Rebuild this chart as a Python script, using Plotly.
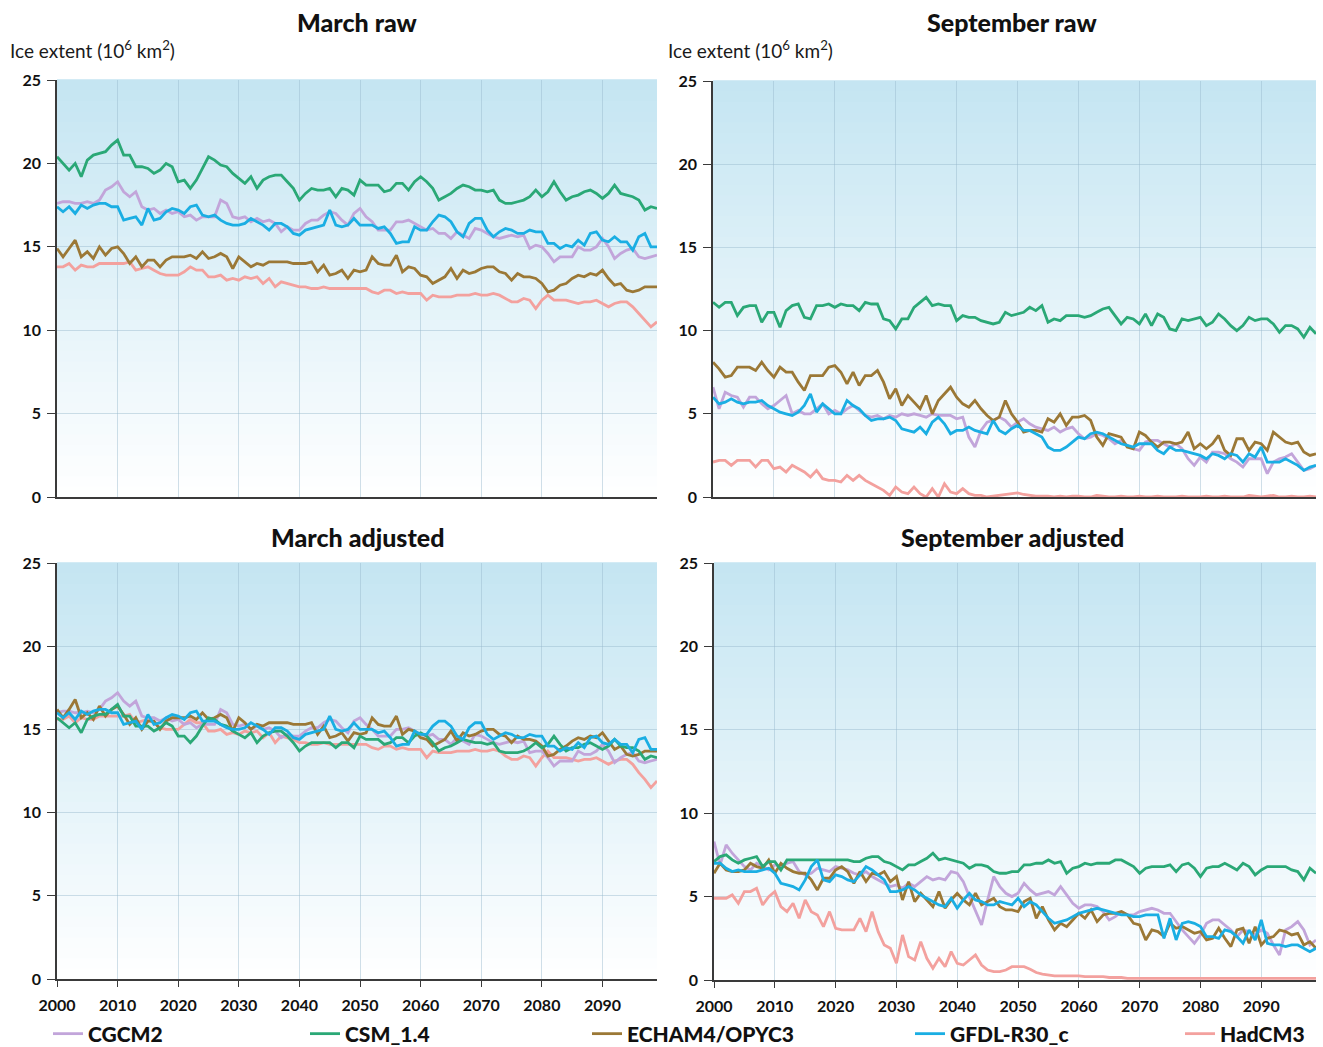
import plotly.graph_objects as go

years = list(range(2000, 2100))
models = ["CGCM2", "CSM_1.4", "ECHAM4/OPYC3", "GFDL-R30_c", "HadCM3"]
colors = ["#c2a5da", "#2aa876", "#9b7836", "#1aaee3", "#f3a19e"]
panel_titles = ["March raw", "September raw", "March adjusted", "September adjusted"]
y_ticks = [0, 5, 10, 15, 20, 25]
x_ticks = [2000, 2010, 2020, 2030, 2040, 2050, 2060, 2070, 2080, 2090]

# ---------------- March raw ----------------
mar_raw_cgcm2 = [17.6,17.7,17.7,17.6,17.6,17.7,17.6,17.8,18.4,18.6, 18.9,18.3,18.0,18.3,17.4,17.2,17.3,17.0,17.2,17.0,
                 17.1,16.8,16.9,16.6,16.8,16.8,16.8,17.8,17.6,16.8, 16.7,16.8,16.5,16.7,16.5,16.6,16.4,15.9,16.2,16.0,
                 16.0,16.4,16.6,16.6,16.9,17.1,17.0,16.6,16.3,17.0, 17.3,16.8,16.5,16.0,16.0,16.0,16.5,16.5,16.6,16.4,
                 16.2,16.0,16.1,15.8,15.8,15.5,15.9,15.7,15.5,16.1, 16.0,15.8,15.6,15.5,15.6,15.7,15.6,15.7,14.9,15.1,
                 15.0,14.6,14.1,14.4,14.4,14.4,15.0,14.8,14.8,15.0, 15.5,15.0,14.3,14.6,14.8,14.9,14.4,14.3,14.4,14.5]
mar_raw_csm = [20.4,20.0,19.6,20.0,19.2,20.2,20.5,20.6,20.7,21.1, 21.4,20.5,20.5,19.8,19.8,19.7,19.4,19.6,20.0,19.8,
               18.9,19.0,18.5,19.0,19.7,20.4,20.2,19.9,19.8,19.4, 19.1,18.8,19.2,18.5,19.0,19.2,19.3,19.3,18.9,18.5,
               17.8,18.2,18.5,18.4,18.4,18.5,18.0,18.5,18.4,18.1, 19.0,18.7,18.7,18.7,18.3,18.4,18.8,18.8,18.4,18.9,
               19.2,18.9,18.5,17.8,18.0,18.2,18.5,18.7,18.6,18.4, 18.4,18.3,18.4,17.8,17.6,17.6,17.7,17.8,18.0,18.4,
               18.0,18.3,18.9,18.3,17.8,18.0,18.1,18.3,18.4,18.2, 17.9,18.2,18.7,18.2,18.1,18.0,17.8,17.2,17.4,17.3]
mar_raw_echam = [14.9,14.4,14.9,15.4,14.4,14.7,14.3,15.0,14.5,14.9, 15.0,14.6,14.0,14.4,13.8,14.2,14.2,13.8,14.2,14.4,
                 14.4,14.4,14.5,14.3,14.7,14.3,14.4,14.6,14.4,13.7, 14.4,14.1,13.8,14.0,13.9,14.1,14.1,14.1,14.1,14.0,
                 14.0,14.0,14.1,13.5,13.9,13.3,13.4,13.6,13.1,13.6, 13.5,13.6,14.4,14.0,13.9,13.9,14.5,13.5,13.8,13.7,
                 13.3,13.2,12.8,13.0,13.2,13.7,13.1,13.6,13.4,13.5, 13.7,13.8,13.8,13.5,13.4,13.0,13.4,13.2,13.2,13.1,
                 12.8,12.3,12.4,12.7,12.8,13.1,13.3,13.2,13.4,13.3, 13.6,13.1,12.7,12.8,12.4,12.3,12.4,12.6,12.6,12.6]
mar_raw_gfdl = [17.4,17.1,17.4,17.0,17.5,17.3,17.5,17.6,17.6,17.4, 17.4,16.6,16.7,16.8,16.3,17.3,16.6,16.7,17.1,17.3,
                17.2,17.0,17.4,17.5,16.9,16.8,16.9,16.6,16.4,16.3, 16.3,16.4,16.7,16.5,16.3,16.0,16.4,16.4,16.2,15.8,
                15.7,16.0,16.1,16.2,16.3,17.2,16.3,16.2,16.3,16.7, 16.3,16.3,16.3,16.1,16.2,15.8,15.2,15.3,15.3,16.2,
                16.0,16.0,16.5,16.9,16.8,16.5,15.9,15.6,16.4,16.7, 16.7,16.0,15.6,15.9,16.1,16.0,15.8,15.8,16.0,15.9,
                15.9,15.2,15.2,14.9,15.1,15.0,15.4,15.1,15.8,15.9, 15.4,15.3,15.6,15.3,15.3,14.8,15.6,15.8,15.0,15.0]
mar_raw_had = [13.8,13.8,14.0,13.6,13.9,13.8,13.8,14.0,14.0,14.0, 14.0,14.0,14.1,13.6,13.7,13.8,13.6,13.4,13.3,13.3,
               13.3,13.5,13.8,13.6,13.6,13.2,13.2,13.3,13.0,13.1, 13.0,13.2,13.1,13.2,12.8,13.1,12.6,12.9,12.8,12.7,
               12.6,12.6,12.5,12.5,12.6,12.5,12.5,12.5,12.5,12.5, 12.5,12.5,12.3,12.2,12.4,12.4,12.2,12.3,12.2,12.2,
               12.2,11.8,12.1,12.0,12.0,12.0,12.1,12.1,12.1,12.2, 12.1,12.1,12.2,12.1,11.9,11.7,11.7,11.9,11.8,11.3,
               11.8,12.1,11.8,11.8,11.8,11.7,11.6,11.7,11.7,11.8, 11.6,11.4,11.6,11.7,11.7,11.4,11.0,10.6,10.2,10.5]

# ---------------- September raw ----------------
sep_raw_cgcm2 = [6.6,5.3,6.3,6.1,6.0,5.4,6.0,6.0,5.6,5.3, 5.5,5.8,6.1,5.0,5.2,5.0,5.0,5.3,5.6,5.0,
                 5.2,5.0,5.3,5.5,5.2,4.9,4.8,4.9,4.7,4.9, 4.8,5.0,4.9,5.0,4.9,4.8,5.0,4.9,4.9,4.9,
                 4.7,4.8,3.6,3.0,4.0,4.5,4.6,4.8,4.6,4.2, 4.5,4.7,4.4,4.2,4.1,4.0,4.2,3.9,4.1,4.2,
                 3.8,3.5,3.6,3.8,3.7,3.5,3.2,3.4,3.1,2.9, 2.8,3.3,3.4,3.4,3.2,3.0,3.2,2.9,2.3,1.9,
                 2.4,2.1,2.7,2.7,2.6,2.3,2.1,1.8,2.3,2.3, 2.3,1.4,2.1,2.3,2.4,2.6,2.1,1.6,1.7,1.9]
sep_raw_csm = [11.7,11.4,11.7,11.7,10.9,11.4,11.5,11.5,10.5,11.1, 11.1,10.2,11.2,11.5,11.6,10.8,10.7,11.5,11.5,11.6,
               11.4,11.6,11.5,11.5,11.2,11.7,11.6,11.6,10.7,10.6, 10.1,10.7,10.7,11.4,11.7,12.0,11.5,11.6,11.5,11.5,
               10.6,10.9,10.8,10.8,10.6,10.5,10.4,10.5,11.1,10.9, 11.0,11.1,11.4,11.2,11.5,10.5,10.7,10.6,10.9,10.9,
               10.9,10.8,10.9,11.1,11.3,11.4,10.9,10.4,10.8,10.7, 10.4,11.0,10.3,11.0,10.8,10.1,10.0,10.7,10.6,10.7,
               10.8,10.3,10.5,11.0,10.7,10.3,10.0,10.3,10.8,10.6, 10.7,10.7,10.4,9.9,10.3,10.3,10.1,9.6,10.2,9.8]
sep_raw_echam = [8.1,7.7,7.2,7.3,7.8,7.8,7.8,7.6,8.1,7.6, 7.2,7.8,7.5,7.5,6.9,6.4,7.3,7.3,7.3,7.8,
                 7.9,7.5,6.8,7.5,6.7,7.3,7.3,7.6,6.9,5.9, 6.5,5.5,6.1,5.7,5.3,6.1,5.0,5.8,6.2,6.6,
                 6.0,5.6,5.4,5.8,5.3,4.9,4.6,4.8,5.8,5.0, 4.5,3.9,4.0,4.0,3.9,4.7,4.5,5.0,4.3,4.8,
                 4.8,4.9,4.6,3.6,3.1,3.8,3.7,3.6,3.0,2.9, 3.9,3.7,3.3,3.0,3.3,3.3,3.2,3.3,3.9,2.9,
                 3.2,2.9,3.2,3.7,2.8,2.5,3.5,3.5,2.8,3.3, 3.2,2.8,3.9,3.6,3.3,3.2,3.3,2.7,2.5,2.6]
sep_raw_gfdl = [6.0,5.6,5.7,5.9,5.7,5.6,5.7,5.7,5.8,5.5, 5.3,5.1,5.0,4.9,5.1,5.5,6.2,5.1,5.6,5.3,
                5.0,5.0,5.8,5.5,5.3,4.9,4.6,4.7,4.7,4.8, 4.6,4.1,4.0,3.9,4.2,3.8,4.5,4.8,4.4,3.8,
                4.0,4.0,4.2,4.0,3.9,3.8,4.6,4.0,3.8,4.1, 4.3,4.0,4.0,3.8,3.6,3.0,2.8,2.8,3.0,3.3,
                3.6,3.5,3.8,3.9,3.8,3.6,3.4,3.2,3.1,3.0, 3.2,3.2,3.2,2.8,2.6,3.0,2.8,2.8,2.7,2.6,
                2.5,2.3,2.6,2.5,2.3,2.6,2.5,2.1,2.6,2.4, 3.0,2.1,2.1,2.1,2.3,2.1,1.9,1.6,1.8,1.9]
sep_raw_had = [2.1,2.2,2.2,1.9,2.2,2.2,2.2,1.8,2.2,2.2, 1.7,1.8,1.5,1.9,1.7,1.5,1.2,1.6,1.1,1.0,
               1.0,0.9,1.3,1.0,1.3,1.0,0.8,0.6,0.4,0.1, 0.6,0.3,0.2,0.6,0.2,0.0,0.5,0.0,0.8,0.3,
               0.2,0.5,0.2,0.1,0.1,0.0,0.05,0.1,0.15,0.2, 0.25,0.15,0.1,0.05,0.05,0.05,0.0,0.05,0.0,0.05,
               0.05,0.0,0.0,0.1,0.05,0.0,0.0,0.05,0.0,0.0, 0.05,0.0,0.0,0.05,0.0,0.0,0.0,0.05,0.0,0.0,
               0.0,0.05,0.0,0.0,0.05,0.0,0.0,0.0,0.1,0.05, 0.0,0.05,0.1,0.0,0.0,0.05,0.0,0.0,0.05,0.0]

# ---------------- March adjusted ----------------
mar_adj_cgcm2 = [16.0,16.1,16.1,16.0,16.0,16.1,16.0,16.2,16.7,16.9, 17.2,16.7,16.4,16.7,15.8,15.7,15.7,15.5,15.7,15.5,
                 15.6,15.3,15.4,15.1,15.3,15.3,15.3,16.2,16.0,15.3, 15.2,15.3,15.0,15.2,15.0,15.1,14.9,14.5,14.7,14.6,
                 14.6,14.9,15.1,15.1,15.4,15.6,15.5,15.1,14.8,15.5, 15.7,15.3,15.0,14.6,14.6,14.6,15.0,15.0,15.1,14.9,
                 14.7,14.6,14.7,14.4,14.4,14.1,14.5,14.3,14.1,14.7, 14.6,14.4,14.2,14.1,14.2,14.3,14.2,14.3,13.6,13.7,
                 13.7,13.3,12.8,13.1,13.1,13.1,13.7,13.5,13.5,13.7, 14.1,13.7,13.0,13.3,13.5,13.6,13.1,13.0,13.1,13.2]
mar_adj_csm = [15.7,15.4,15.1,15.4,14.8,15.6,15.8,15.9,15.9,16.2, 16.5,15.8,15.8,15.2,15.2,15.2,14.9,15.1,15.4,15.2,
               14.6,14.6,14.2,14.6,15.2,15.7,15.6,15.3,15.2,14.9, 14.7,14.5,14.8,14.2,14.6,14.8,14.9,14.9,14.6,14.2,
               13.7,14.0,14.2,14.2,14.2,14.2,13.9,14.2,14.2,13.9, 14.6,14.4,14.4,14.4,14.1,14.2,14.5,14.5,14.2,14.6,
               14.8,14.6,14.2,13.7,13.9,14.0,14.2,14.4,14.3,14.2, 14.2,14.1,14.2,13.7,13.6,13.6,13.6,13.7,13.9,14.2,
               13.9,14.1,14.6,14.1,13.7,13.9,13.9,14.1,14.2,14.0, 13.8,14.0,14.4,14.0,13.9,13.9,13.7,13.2,13.4,13.3]
mar_adj_echam = [16.2,15.7,16.2,16.8,15.7,16.0,15.6,16.4,15.8,16.2, 16.4,15.9,15.3,15.7,15.0,15.5,15.5,15.0,15.5,15.7,
                 15.7,15.7,15.8,15.6,16.0,15.6,15.7,15.9,15.7,14.9, 15.7,15.4,15.0,15.3,15.2,15.4,15.4,15.4,15.4,15.3,
                 15.3,15.3,15.4,14.7,15.2,14.5,14.6,14.8,14.3,14.8, 14.7,14.8,15.7,15.3,15.2,15.2,15.8,14.7,15.0,14.9,
                 14.5,14.4,14.0,14.2,14.4,14.9,14.3,14.8,14.6,14.7, 14.9,15.0,15.0,14.7,14.6,14.2,14.6,14.4,14.4,14.3,
                 14.0,13.4,13.5,13.8,14.0,14.3,14.5,14.4,14.6,14.5, 14.8,14.3,13.8,14.0,13.5,13.4,13.5,13.7,13.7,13.7]
mar_adj_gfdl = [16.0,15.7,16.0,15.6,16.1,15.9,16.1,16.2,16.2,16.0, 16.0,15.3,15.4,15.5,15.0,15.9,15.3,15.4,15.7,15.9,
                15.8,15.6,16.0,16.1,15.5,15.5,15.5,15.3,15.1,15.0, 15.0,15.1,15.4,15.2,15.0,14.7,15.1,15.1,14.9,14.5,
                14.4,14.7,14.8,14.9,15.0,15.8,15.0,14.9,15.0,15.4, 15.0,15.0,15.0,14.8,14.9,14.5,14.0,14.1,14.1,14.9,
                14.7,14.7,15.2,15.5,15.5,15.2,14.6,14.4,15.1,15.4, 15.4,14.7,14.4,14.6,14.8,14.7,14.5,14.5,14.7,14.6,
                14.6,14.0,14.0,13.7,13.9,13.8,14.2,13.9,14.5,14.6, 14.2,14.1,14.4,14.1,14.1,13.6,14.4,14.5,13.8,13.8]
mar_adj_had = [15.6,15.6,15.8,15.4,15.7,15.6,15.6,15.8,15.8,15.8, 15.8,15.8,15.9,15.4,15.5,15.6,15.4,15.1,15.0,15.0,
               15.0,15.3,15.6,15.4,15.4,14.9,14.9,15.0,14.7,14.8, 14.7,14.9,14.8,14.9,14.5,14.8,14.2,14.6,14.5,14.4,
               14.2,14.2,14.1,14.1,14.2,14.1,14.1,14.1,14.1,14.1, 14.1,14.1,13.9,13.8,14.0,14.0,13.8,13.9,13.8,13.8,
               13.8,13.3,13.7,13.6,13.6,13.6,13.7,13.7,13.7,13.8, 13.7,13.7,13.8,13.7,13.4,13.2,13.2,13.4,13.3,12.8,
               13.3,13.7,13.3,13.3,13.3,13.2,13.1,13.2,13.2,13.3, 13.1,12.9,13.1,13.2,13.2,12.9,12.4,12.0,11.5,11.9]

# ---------------- September adjusted ----------------
sep_adj_cgcm2 = [8.3,6.9,8.1,7.6,7.2,6.8,6.6,7.0,6.8,6.6, 6.9,6.8,7.0,7.1,6.5,6.3,6.4,6.7,6.6,6.5,
                 6.8,6.7,6.6,6.4,6.3,6.5,6.2,6.0,5.8,5.6, 5.7,5.5,5.8,5.6,5.9,6.2,6.0,6.1,6.0,6.5,
                 6.4,5.9,5.0,4.2,3.3,4.8,6.2,5.6,5.2,5.0, 5.2,5.8,5.4,5.1,5.2,5.3,5.1,5.6,5.1,4.6,
                 4.3,4.5,4.5,4.4,4.1,3.6,3.8,4.1,3.9,3.9, 4.1,4.2,4.3,4.2,4.0,4.0,3.5,3.0,2.6,2.2,
                 2.7,3.4,3.6,3.6,3.3,3.0,2.6,3.0,2.9,2.7, 3.0,2.8,2.1,1.5,3.0,3.2,3.5,3.0,2.1,2.4]
sep_adj_csm = [7.1,7.4,7.5,7.2,7.0,7.2,7.3,7.4,6.8,7.1, 7.1,6.6,7.2,7.2,7.2,7.2,7.2,7.2,7.2,7.2,
               7.2,7.2,7.2,7.1,7.1,7.3,7.4,7.4,7.1,7.0, 6.8,6.6,6.9,6.9,7.1,7.3,7.6,7.2,7.3,7.2,
               7.1,7.0,6.7,6.9,6.9,6.8,6.5,6.4,6.4,6.5, 6.5,6.9,6.9,7.0,7.0,7.2,7.0,7.1,6.4,6.7,
               6.8,7.0,6.9,7.0,7.0,7.0,7.2,7.2,7.0,6.8, 6.4,6.7,6.8,6.8,6.8,6.9,6.5,6.9,7.0,6.7,
               6.2,6.7,6.8,6.8,7.0,6.8,6.6,7.0,6.8,6.3, 6.6,6.8,6.8,6.8,6.8,6.6,6.5,6.0,6.7,6.4]
sep_adj_echam = [6.4,7.0,6.6,6.5,6.5,6.6,7.0,6.8,6.7,7.2, 6.4,7.0,6.7,6.5,6.4,6.4,6.0,5.4,6.1,6.1,
                 6.6,6.8,6.5,5.8,6.5,5.9,6.4,6.3,6.5,5.9, 6.2,4.8,5.9,4.7,5.2,4.8,4.4,5.3,4.3,4.8,
                 5.2,4.8,4.5,5.2,4.5,4.7,4.9,4.4,4.2,4.2, 4.1,4.7,4.9,3.7,4.4,3.6,3.0,3.4,3.2,3.6,
                 4.0,3.7,4.2,3.5,3.9,4.0,4.0,4.1,3.9,3.4, 3.3,2.4,3.0,2.9,2.6,3.4,3.1,3.2,3.0,2.8,
                 2.9,2.4,2.5,3.1,2.5,2.0,3.0,3.1,2.2,3.2, 2.1,2.5,2.6,3.0,2.9,2.7,2.8,2.1,2.3,1.9]
sep_adj_gfdl = [7.0,7.0,6.7,6.5,6.6,6.5,6.5,6.5,6.6,6.7, 6.4,5.8,5.7,5.6,5.4,6.0,6.8,7.2,6.0,5.9,
                6.3,6.2,6.0,5.9,6.3,6.8,6.6,6.3,6.0,5.3, 5.3,5.4,5.6,5.4,5.1,4.9,4.7,4.5,4.4,4.9,
                4.3,4.8,5.2,4.8,4.7,4.5,4.5,4.7,4.6,4.5, 4.9,4.4,4.7,4.5,4.1,3.7,3.4,3.5,3.6,3.8,
                4.0,4.1,4.2,4.3,4.2,4.1,4.0,3.9,3.9,3.8, 3.8,3.9,3.9,3.9,2.5,3.7,2.4,3.4,3.5,3.4,
                3.2,2.6,2.6,2.5,3.0,2.9,2.6,2.2,3.0,2.4, 3.6,2.2,2.1,2.1,2.0,2.1,2.1,1.9,1.7,1.9]
sep_adj_had = [4.9,4.9,4.9,5.1,4.6,5.3,5.3,5.5,4.5,5.0, 5.3,4.4,4.1,4.6,3.7,4.8,4.1,3.9,3.2,4.1,
               3.1,3.0,3.0,3.0,3.7,2.9,4.1,2.9,2.1,1.9, 1.0,2.7,1.4,1.2,2.3,1.3,0.7,1.3,0.8,1.7,
               1.0,0.9,1.2,1.5,0.9,0.6,0.5,0.5,0.6,0.8, 0.8,0.8,0.65,0.45,0.35,0.3,0.25,0.25,0.25,0.25,
               0.25,0.2,0.2,0.2,0.2,0.15,0.15,0.15,0.1,0.1, 0.1,0.1,0.1,0.1,0.1,0.1,0.1,0.1,0.1,0.1,
               0.1,0.1,0.1,0.1,0.1,0.1,0.1,0.1,0.1,0.1, 0.1,0.1,0.1,0.1,0.1,0.1,0.1,0.1,0.1,0.1]

panels = [
    [mar_raw_cgcm2, mar_raw_csm, mar_raw_echam, mar_raw_gfdl, mar_raw_had],
    [sep_raw_cgcm2, sep_raw_csm, sep_raw_echam, sep_raw_gfdl, sep_raw_had],
    [mar_adj_cgcm2, mar_adj_csm, mar_adj_echam, mar_adj_gfdl, mar_adj_had],
    [sep_adj_cgcm2, sep_adj_csm, sep_adj_echam, sep_adj_gfdl, sep_adj_had],
]

W, H = 1323, 1047
FONT = "Lato"

def px_x(a, b):
    return [a / W, b / W]

def px_y(top, bottom):
    return [1 - bottom / H, 1 - top / H]

x_domains = [px_x(57, 657), px_x(713, 1316), px_x(57, 657), px_x(714, 1316)]
y_domains = [px_y(80, 497), px_y(81, 497), px_y(563, 979), px_y(563, 980)]

fig = go.Figure()
legend_names = ["legend", "legend2", "legend3", "legend4", "legend5"]
draw_order = [4, 0, 2, 1, 3]
for p in range(4):
    xa = "x" if p == 0 else f"x{p+1}"
    ya = "y" if p == 0 else f"y{p+1}"
    for k in draw_order:
        fig.add_trace(go.Scatter(
            x=years, y=panels[p][k], mode="lines", name=models[k],
            line=dict(color=colors[k], width=2.8),
            xaxis=xa, yaxis=ya,
            showlegend=(p == 0), legend=legend_names[k], hoverinfo="skip"))

grid_col = "rgba(150,185,205,0.45)"
axis_col = "#3a3a3a"
layout = dict(
    width=W, height=H, margin=dict(l=0, r=0, t=0, b=0, autoexpand=False),
    paper_bgcolor="white", plot_bgcolor="rgba(0,0,0,0)",
    font=dict(family=FONT, color="#1a1a1a"),
)
for p in range(4):
    xk = "xaxis" if p == 0 else f"xaxis{p+1}"
    yk = "yaxis" if p == 0 else f"yaxis{p+1}"
    ya = "y" if p == 0 else f"y{p+1}"
    xa = "x" if p == 0 else f"x{p+1}"
    bottom = p >= 2
    layout[xk] = dict(domain=x_domains[p], anchor=ya, range=[2000, 2099], automargin=False,
                      tickmode="array", tickvals=x_ticks, ticktext=[str(t) for t in x_ticks],
                      showticklabels=bottom, ticks="outside" if bottom else "",
                      ticklen=6, tickcolor=axis_col, tickwidth=1.2, ticklabelstandoff=5,
                      tickfont=dict(size=16, color="#111", family=FONT, weight="bold"),
                      showgrid=True, gridcolor=grid_col, gridwidth=1,
                      showline=True, linecolor=axis_col, linewidth=1.5, zeroline=False)
    layout[yk] = dict(domain=y_domains[p], anchor=xa, range=[0, 25], automargin=False,
                      tickmode="array", tickvals=y_ticks, ticktext=[str(t) for t in y_ticks],
                      ticks="outside", ticklen=8, tickcolor=axis_col, tickwidth=1.2, ticklabelstandoff=3,
                      tickfont=dict(size=16, color="#111", family=FONT, weight="bold"),
                      showgrid=True, gridcolor=grid_col, gridwidth=1,
                      showline=True, linecolor=axis_col, linewidth=1.5, zeroline=False)

# legends (one per model so each can sit where the reference puts it)
legend_x_px = [48, 305, 587, 910, 1180]
for i, ln in enumerate(legend_names):
    layout[ln] = dict(x=legend_x_px[i] / W, xanchor="left", y=(H - 1034) / H, yanchor="middle",
                      orientation="h", bgcolor="rgba(0,0,0,0)", itemwidth=30,
                      font=dict(size=21, family=FONT, color="#111", weight=900))
fig.update_layout(**layout)

# background gradient bands
n_bands = 40
top_rgb = (196, 229, 242)
shapes = []
for p in range(4):
    xr = "x" if p == 0 else f"x{p+1}"
    yr = "y" if p == 0 else f"y{p+1}"
    for i in range(n_bands):
        t = (i + 0.5) / n_bands
        c = tuple(round(255 + (tc - 255) * t) for tc in top_rgb)
        shapes.append(dict(type="rect", xref=f"{xr} domain", yref=f"{yr} domain",
                           x0=0, x1=1, y0=i / n_bands, y1=(i + 1) / n_bands + 0.002,
                           fillcolor=f"rgb{c}", line=dict(width=0), layer="below"))
fig.update_layout(shapes=shapes)

# titles
title_pos = [(357, 22), (1013, 22), (357, 537), (1013, 537)]
for t, (cx, cy) in zip(panel_titles, title_pos):
    fig.add_annotation(text=t, xref="paper", yref="paper",
                       x=cx / W, y=1 - cy / H, xanchor="center", yanchor="middle",
                       showarrow=False, font=dict(size=25, family=FONT, color="#111", weight=900))
for xpx in (8, 666):
    fig.add_annotation(text="Ice extent (10<sup>6</sup> km<sup>2</sup>)", xref="paper", yref="paper",
                       x=xpx / W, y=1 - 49 / H, xanchor="left", yanchor="middle",
                       showarrow=False, font=dict(size=19, family=FONT, color="#1a1a1a"))

fig.write_html("out.html")
